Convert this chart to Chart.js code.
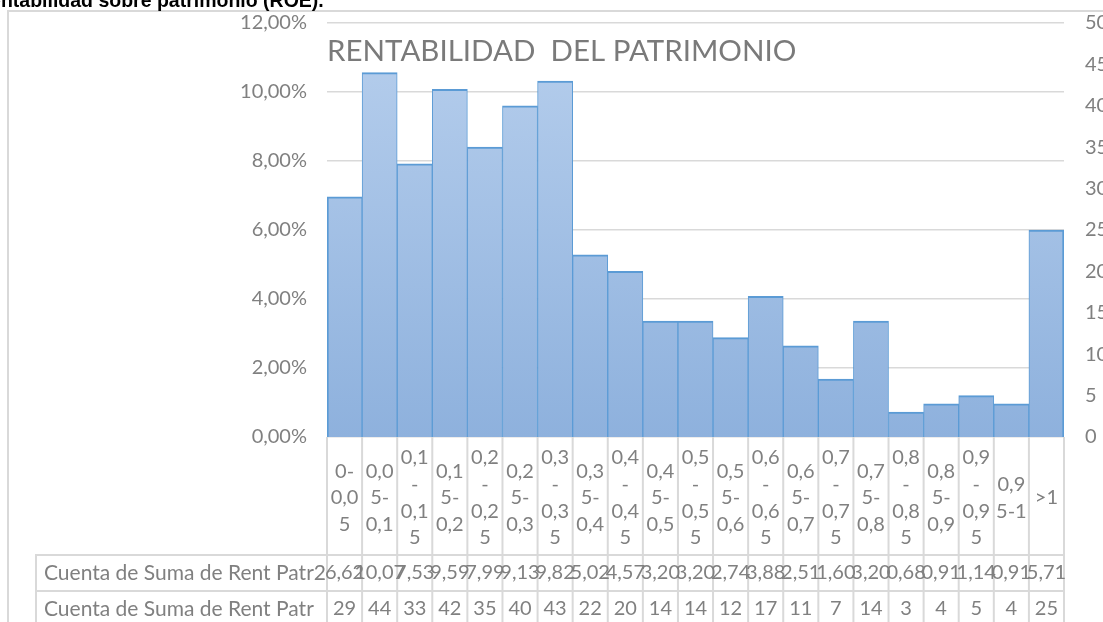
<!DOCTYPE html>
<html><head><meta charset="utf-8">
<script src="https://cdn.jsdelivr.net/npm/chart.js@4"></script>
<style>html,body{margin:0;padding:0;background:#fff;overflow:hidden}canvas{display:block}</style>
</head><body>
<canvas id="c" width="1103" height="622"></canvas>
<script>
// ---- data ----
const categories = ["0-0,05","0,05-0,1","0,1-0,15","0,15-0,2","0,2-0,25","0,25-0,3","0,3-0,35","0,35-0,4","0,4-0,45","0,45-0,5","0,5-0,55","0,55-0,6","0,6-0,65","0,65-0,7","0,7-0,75","0,75-0,8","0,8-0,85","0,85-0,9","0,9-0,95","0,95-1",">1"];
const tickLabels = [["0-","0,0","5"],["0,0","5-","0,1"],["0,1","-","0,1","5"],["0,1","5-","0,2"],["0,2","-","0,2","5"],["0,2","5-","0,3"],["0,3","-","0,3","5"],["0,3","5-","0,4"],["0,4","-","0,4","5"],["0,4","5-","0,5"],["0,5","-","0,5","5"],["0,5","5-","0,6"],["0,6","-","0,6","5"],["0,6","5-","0,7"],["0,7","-","0,7","5"],["0,7","5-","0,8"],["0,8","-","0,8","5"],["0,8","5-","0,9"],["0,9","-","0,9","5"],["0,9","5-1"],[">1"]];
const countValues = [29,44,33,42,35,40,43,22,20,14,14,12,17,11,7,14,3,4,5,4,25];
const pctValues = [6.62,10.07,7.53,9.59,7.99,9.13,9.82,5.02,4.57,3.20,3.20,2.74,3.88,2.51,1.60,3.20,0.68,0.91,1.14,0.91,5.71];
const pctLabels = ["6,62","10,07","7,53","9,59","7,99","9,13","9,82","5,02","4,57","3,20","3,20","2,74","3,88","2,51","1,60","3,20","0,68","0,91","1,14","0,91","5,71"];
const rowNames = ["Cuenta de Suma de Rent Patr2","Cuenta de Suma de Rent Patr"];
const chartTitle = "RENTABILIDAD  DEL PATRIMONIO";
const docTitle = "Rentabilidad sobre patrimonio (ROE).";
const leftAxis = {min:0, max:12, step:2};
const rightAxis = {min:0, max:50, step:5};

const TXT = '#808080';
const FONT = 'Lato';

const tablePlugin = {
  id:'tbl',
  afterDraw(chart){
    const ctx = chart.ctx, x = chart.scales.x, ca = chart.chartArea;
    const n = categories.length;
    const half = (x.getPixelForValue(1)-x.getPixelForValue(0))/2;
    ctx.save();
    // frame
    ctx.strokeStyle = '#d9d9d9'; ctx.lineWidth = 2;
    ctx.beginPath(); ctx.moveTo(8, chart.height); ctx.lineTo(8, 11); ctx.lineTo(chart.width, 11); ctx.stroke();
    // table lines
    const rowTop = x.bottom, rowH = 36;
    ctx.beginPath();
    for (let i=0;i<=n;i++){
      const px = i<n ? x.getPixelForValue(i)-half : x.getPixelForValue(n-1)+half;
      ctx.moveTo(px, ca.bottom); ctx.lineTo(px, chart.height);
    }
    ctx.moveTo(36, rowTop); ctx.lineTo(36, chart.height);
    for (let r=0;r<3;r++){ ctx.moveTo(35, rowTop+r*rowH); ctx.lineTo(ca.right+1, rowTop+r*rowH); }
    ctx.stroke();
    // table text
    ctx.fillStyle = TXT; ctx.textBaseline = 'middle';
    ctx.textAlign = 'left'; ctx.font = '21px ' + FONT;
    ctx.fillText(rowNames[0], 44, rowTop + rowH/2);
    ctx.fillText(rowNames[1], 44, rowTop + rowH*1.5);
    ctx.textAlign = 'center'; ctx.font = '20px ' + FONT;
    for (let i=0;i<n;i++){
      const px = x.getPixelForValue(i);
      ctx.fillText(pctLabels[i], px, rowTop + rowH/2);
      ctx.fillText(String(countValues[i]), px, rowTop + rowH*1.5);
    }
    // chart title
    ctx.textAlign = 'left'; ctx.textBaseline = 'alphabetic';
    ctx.fillStyle = '#7a7a7a'; ctx.font = '29.5px ' + FONT;
    ctx.fillText(chartTitle, ca.left, 61);
    // document heading (cut at top)
    ctx.fillStyle = '#000'; ctx.font = 'bold 19.5px "Liberation Sans"';
    ctx.fillText(docTitle, -24, 6.5);
    ctx.restore();
  }
};

const n = categories.length;
new Chart(document.getElementById('c'), {
  data: {
    labels: tickLabels,
    datasets: [
      {
        type:'bar', label: rowNames[1], data: countValues, yAxisID:'yR',
        backgroundColor: (c) => {
          const ca = c.chart.chartArea;
          if (!ca) return '#a3c1e5';
          const g = c.chart.ctx.createLinearGradient(0, ca.top, 0, ca.bottom);
          g.addColorStop(0, '#b7cfed'); g.addColorStop(1, '#8eb1dd');
          return g;
        },
        borderColor:'#5b9bd5',
        borderWidth: (c) => ({top:2, left: c.dataIndex===0?2:1, right: c.dataIndex===n-1?2:1, bottom:0}),
        barPercentage:1, categoryPercentage:1, order:2
      },
      {
        type:'line', label: rowNames[0], data: pctValues, yAxisID:'yL',
        showLine:false, pointRadius:0, borderColor:'rgba(0,0,0,0)', backgroundColor:'rgba(0,0,0,0)', order:1
      }
    ]
  },
  options: {
    responsive:false, animation:false, devicePixelRatio:1,
    layout:{padding:{left:0,right:0,top:23,bottom:67}},
    plugins:{legend:{display:false}, tooltip:{enabled:false}, title:{display:false}},
    scales:{
      x:{
        position:'bottom', offset:true,
        grid:{display:false, drawTicks:false}, border:{display:false},
        ticks:{color:TXT, font:{family:FONT, size:20, lineHeight:1.33}, autoSkip:false, maxRotation:0, minRotation:0, crossAlign:'center', padding:21},
        afterFit(s){ s.height = 118; }
      },
      yL:{
        position:'left', min:leftAxis.min, max:leftAxis.max,
        grid:{color:'#d9d9d9', lineWidth:1.5, drawTicks:true, tickLength:20, tickColor:'rgba(0,0,0,0)'}, border:{display:false},
        ticks:{stepSize:leftAxis.step, color:TXT, font:{family:FONT, size:20}, padding:0,
          callback:(v)=> v.toFixed(2).replace('.',',')+'%'},
        afterFit(s){ s.width = 327; }
      },
      yR:{
        position:'right', min:rightAxis.min, max:rightAxis.max,
        grid:{display:false, drawOnChartArea:false, drawTicks:true, tickLength:21, tickColor:'rgba(0,0,0,0)'}, border:{display:false},
        ticks:{stepSize:rightAxis.step, color:TXT, font:{family:FONT, size:20}, padding:0},
        afterFit(s){ s.width = 39; }
      }
    }
  },
  plugins:[tablePlugin]
});
</script>
</body></html>
